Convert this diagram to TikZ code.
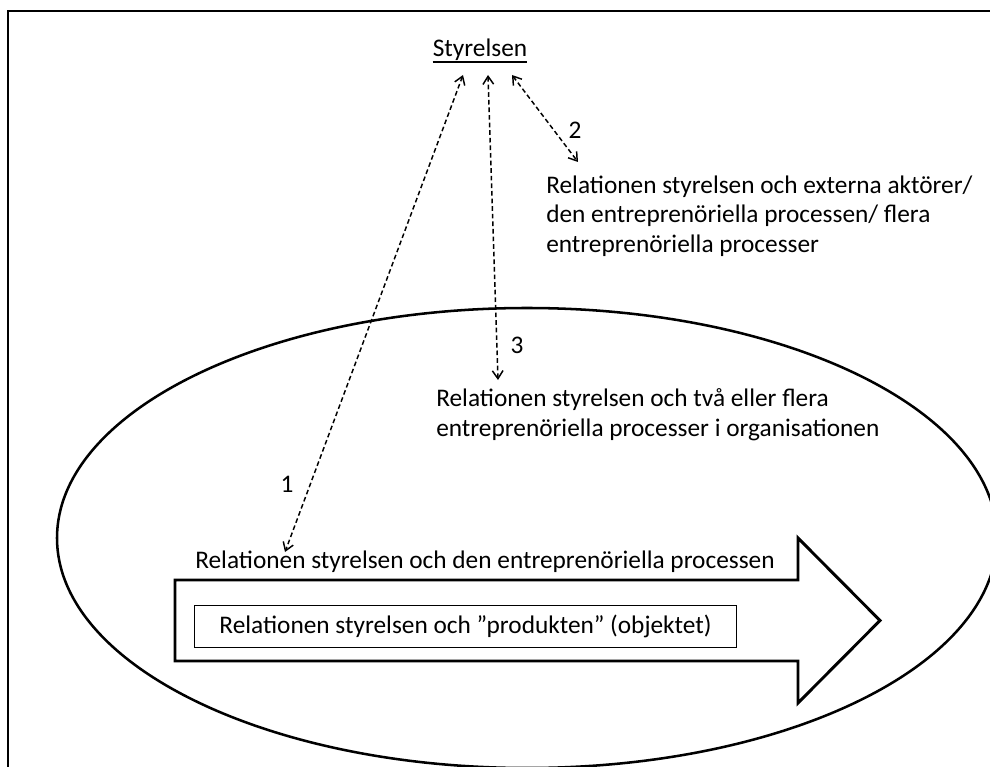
\documentclass[tikz,border=0pt]{standalone}
\usepackage{fontspec}
\setmainfont{Carlito}
\usepackage{tikz}
\usetikzlibrary{positioning}
\usetikzlibrary{calc}
\usetikzlibrary{arrows.meta}
\tikzset{
    x=0.75pt, y=-0.75pt,
    txt/.style = {font=\fontsize{19pt}{22pt}\selectfont, inner sep=0, align=left},
    nummer/.style = {font=\fontsize{19pt}{22pt}\selectfont, inner sep=0},
    dasharrow/.style = {dashed, dash pattern=on 3.5pt off 2.2pt, line width=1.1pt,
        {Straight Barb[length=6pt,width=8pt]}-{Straight Barb[length=6pt,width=8pt]}},
    pil/.style = {line width=2.2pt, fill=white, line join=miter}
}

\begin{document}
\begin{tikzpicture}
    \useasboundingbox (0,0) rectangle (990,767);
    \draw[line width=0.8pt] (8,767) -- (8,11) -- (990,11);
    \draw[line width=1.9pt] (527,538) ellipse [x radius=470, y radius=230];
    % processen-pilen
    \draw[pil] (175,580) -- (798,580) -- (798,538) -- (880,620.5) -- (798,703) -- (798,661) -- (175,661) -- cycle;
    \node(produkt)[draw, line width=0.7pt, minimum width=407pt, minimum height=31.5pt, txt] at (465.5,626) {Relationen styrelsen och ”produkten” (objektet)};
    \node(styrelsen)[txt, anchor=base] at (480,57) {Styrelsen};
    \draw[line width=0.8pt] ($(styrelsen.base west)+(0,5)$) -- ($(styrelsen.base east)+(0,5)$);
    % base = sista raden
    \node(extern)[txt, anchor=base west] at (546,252) {Relationen styrelsen och externa aktörer/\\den entreprenöriella processen/ flera\\entreprenöriella processer};
    \node(flera)[txt, anchor=base west] at (436,436) {Relationen styrelsen och två eller flera\\entreprenöriella processer i organisationen};
    \node(process)[txt, anchor=base west] at (195,568) {Relationen styrelsen och den entreprenöriella processen};
    \coordinate (s1) at (463,75);
    \coordinate (s3) at (488,75);
    \coordinate (s2) at (512,75);
    \coordinate (e1) at (285,552);
    \coordinate (e3) at (498,380);
    \coordinate (e2) at (578,162);
    \draw[dasharrow] (s1) -- (e1);
    \draw[dasharrow] (s3) -- (e3);
    \draw[dasharrow] (s2) -- (e2);
    \node(n1)[nummer] at (287,484) {1};
    \node(n2)[nummer] at (575,130) {2};
    \node(n3)[nummer] at (517,345) {3};
\end{tikzpicture}
\end{document}
